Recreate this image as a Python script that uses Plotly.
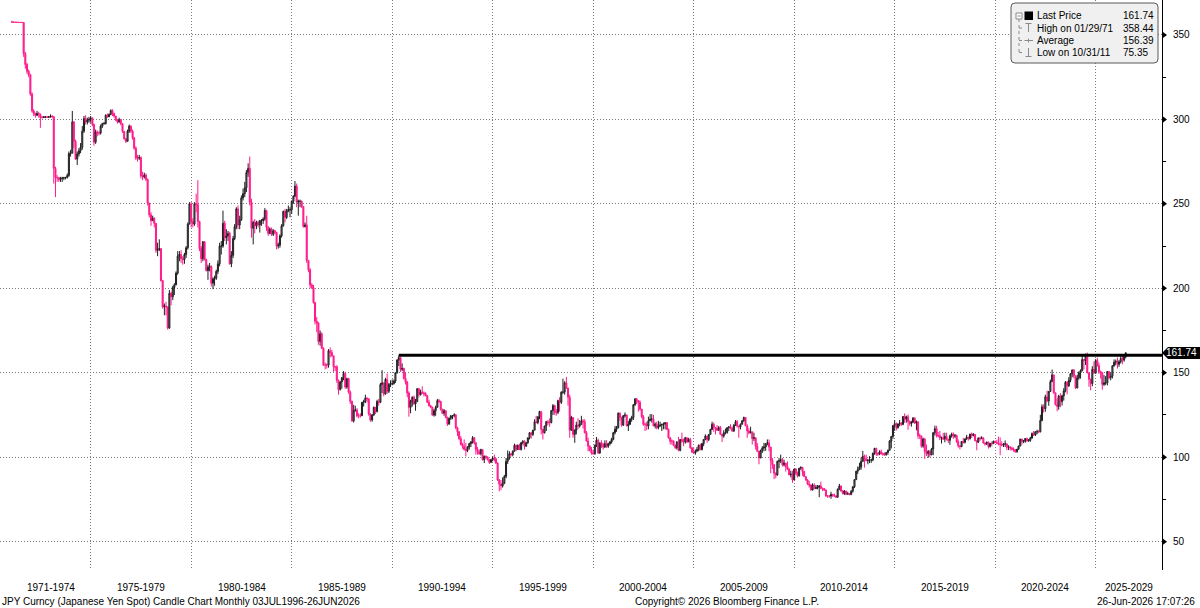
import plotly.graph_objects as go
import pandas as pd

# ---------------- data (USD/JPY monthly) ----------------
FIRST_OPEN = 357.7
CLOSE = [
    # 1971
    357.6, 357.5, 357.5, 357.5, 357.4, 357.4, 357.4, 339.0, 332.5, 328.5, 326.5, 315.0,
    # 1972
    305.0, 303.5, 302.5, 303.5, 303.0, 301.2, 301.2, 301.5, 301.5, 301.3, 301.6, 302.0,
    # 1973
    301.5, 271.0, 265.5, 265.5, 264.5, 265.0, 265.3, 265.5, 265.6, 266.8, 279.8, 280.0,
    # 1974
    298.5, 287.0, 276.5, 279.5, 281.5, 283.5, 293.0, 300.5, 298.5, 299.5, 300.0, 300.9,
    # 1975
    297.0, 286.5, 292.5, 292.0, 292.0, 296.0, 297.5, 297.5, 302.5, 301.5, 303.0, 305.2,
    # 1976
    303.5, 302.0, 299.5, 298.5, 300.0, 297.5, 293.0, 288.5, 287.0, 293.0, 296.0, 293.0,
    # 1977
    289.0, 283.0, 277.0, 277.0, 277.5, 266.5, 266.0, 267.0, 264.5, 250.5, 243.5, 240.0,
    # 1978
    241.5, 238.5, 222.5, 223.0, 223.5, 204.5, 189.0, 189.5, 189.0, 176.5, 197.0, 195.0,
    # 1979
    200.5, 202.0, 209.0, 219.0, 220.0, 217.5, 217.0, 220.0, 224.0, 238.0, 250.0, 239.5,
    # 1980
    238.0, 250.0, 249.5, 239.5, 223.5, 217.5, 227.5, 217.0, 210.5, 212.5, 213.0, 203.0,
    # 1981
    205.5, 206.0, 210.0, 214.5, 225.0, 225.0, 238.5, 230.0, 231.0, 232.5, 214.5, 219.5,
    # 1982
    229.5, 236.5, 247.0, 237.5, 240.5, 253.5, 256.0, 259.5, 268.5, 271.0, 251.0, 235.5,
    # 1983
    239.0, 237.0, 239.0, 237.5, 240.0, 240.0, 241.0, 246.0, 236.0, 232.5, 235.0, 232.0,
    # 1984
    234.0, 233.0, 225.0, 225.5, 231.0, 237.0, 245.5, 242.0, 246.0, 246.5, 246.5, 251.5,
    # 1985
    254.5, 260.5, 251.0, 251.5, 251.5, 248.5, 236.5, 237.5, 216.5, 211.0, 202.0, 200.5,
    # 1986
    191.5, 180.5, 179.5, 168.5, 173.0, 164.5, 154.5, 154.5, 154.5, 163.0, 162.0, 160.0,
    # 1987
    153.5, 153.5, 145.5, 140.0, 144.5, 147.0, 149.5, 141.5, 146.5, 138.5, 133.0, 121.5,
    # 1988
    127.5, 128.0, 124.5, 124.5, 124.5, 132.5, 133.0, 135.0, 134.5, 125.5, 122.0, 125.0,
    # 1989
    129.5, 127.0, 133.0, 132.5, 143.0, 144.0, 137.5, 146.0, 139.0, 143.0, 143.5, 143.5,
    # 1990
    145.0, 150.0, 157.5, 159.0, 152.0, 152.5, 146.5, 144.5, 138.0, 129.5, 133.0, 135.5,
    # 1991
    131.5, 133.0, 140.5, 137.0, 138.5, 138.0, 137.5, 136.5, 132.5, 130.5, 129.5, 125.0,
    # 1992
    127.5, 129.5, 133.5, 133.0, 128.5, 126.0, 127.5, 123.5, 119.5, 123.0, 124.5, 124.5,
    # 1993
    125.0, 117.5, 115.0, 111.0, 107.5, 106.5, 104.5, 104.0, 106.0, 108.0, 109.0, 111.5,
    # 1994
    108.5, 104.5, 103.0, 102.0, 104.5, 98.5, 100.5, 100.0, 98.5, 97.0, 98.5, 99.5,
    # 1995
    99.0, 96.5, 86.5, 84.0, 83.0, 84.5, 88.5, 97.5, 99.5, 102.0, 101.5, 103.5,
    # 1996
    107.0, 104.5, 107.0, 104.5, 108.5, 109.5, 106.5, 108.5, 111.5, 114.5, 113.5, 116.0,
    # 1997
    121.0, 120.5, 124.0, 127.0, 116.5, 114.5, 118.5, 121.0, 120.5, 120.5, 127.5, 130.5,
    # 1998
    126.5, 126.5, 133.5, 132.5, 138.5, 138.5, 144.0, 141.0, 135.5, 116.0, 123.5, 113.5,
    # 1999
    116.0, 119.0, 118.5, 119.5, 121.5, 121.0, 114.5, 109.5, 106.5, 104.0, 102.5, 102.0,
    # 2000
    107.0, 110.0, 102.5, 108.5, 107.5, 106.0, 108.0, 106.5, 108.0, 109.0, 110.5, 114.5,
    # 2001
    116.5, 117.5, 126.0, 123.5, 119.0, 124.5, 125.0, 118.5, 119.5, 122.5, 123.5, 131.0,
    # 2002
    134.5, 133.5, 132.5, 128.5, 124.0, 119.5, 119.5, 118.5, 121.5, 122.5, 122.5, 118.5,
    # 2003
    119.5, 117.5, 118.5, 119.0, 119.5, 119.5, 120.5, 116.5, 111.5, 109.5, 109.5, 107.0,
    # 2004
    105.5, 109.0, 104.0, 110.5, 109.5, 109.0, 111.5, 109.0, 110.5, 105.5, 103.0, 102.5,
    # 2005
    103.5, 104.5, 107.0, 104.5, 108.0, 110.5, 112.5, 110.5, 113.5, 116.5, 119.5, 117.5,
    # 2006
    117.0, 116.0, 117.5, 113.5, 112.5, 114.5, 114.5, 117.5, 118.0, 117.0, 115.5, 119.0,
    # 2007
    121.0, 118.5, 118.0, 119.5, 121.5, 123.5, 118.5, 115.5, 114.5, 115.0, 111.0, 111.5,
    # 2008
    106.5, 103.5, 99.5, 104.0, 105.5, 106.0, 108.0, 108.5, 106.0, 98.0, 95.5, 90.5,
    # 2009
    89.5, 97.5, 98.0, 98.5, 95.5, 96.5, 94.5, 93.0, 89.5, 90.0, 86.5, 93.0,
    # 2010
    90.5, 89.0, 93.5, 94.0, 91.5, 88.5, 86.5, 84.0, 83.5, 80.5, 83.5, 81.5,
    # 2011
    82.0, 82.0, 83.0, 81.5, 81.5, 80.5, 77.0, 77.0, 77.0, 78.0, 77.5, 77.0,
    # 2012
    76.3, 81.0, 83.0, 80.0, 78.5, 80.0, 78.0, 78.4, 77.9, 79.8, 82.5, 86.7,
    # 2013
    91.7, 92.6, 94.2, 97.5, 100.5, 99.1, 97.9, 98.2, 98.3, 98.4, 102.4, 105.3,
    # 2014
    102.0, 101.8, 103.2, 102.2, 101.8, 101.3, 102.8, 104.1, 109.6, 112.3, 118.7, 119.8,
    # 2015
    117.5, 119.6, 120.1, 119.4, 124.1, 122.5, 123.9, 121.2, 119.9, 120.6, 123.1, 120.2,
    # 2016
    121.0, 112.7, 112.6, 106.5, 110.7, 103.3, 102.1, 103.4, 101.4, 104.8, 114.5, 116.9,
    # 2017
    112.8, 112.8, 111.4, 111.5, 110.8, 112.4, 110.3, 110.0, 112.5, 113.7, 112.5, 112.7,
    # 2018
    109.2, 106.7, 106.3, 109.3, 108.8, 110.8, 111.9, 111.0, 113.7, 112.9, 113.5, 109.7,
    # 2019
    108.9, 111.4, 110.9, 111.4, 108.3, 107.9, 108.8, 106.3, 108.1, 108.0, 109.5, 108.6,
    # 2020
    108.4, 107.9, 107.5, 107.2, 107.8, 107.9, 105.8, 105.9, 105.5, 104.7, 104.3, 103.3,
    # 2021
    104.7, 106.6, 110.7, 109.3, 109.6, 111.1, 109.7, 110.0, 111.3, 114.0, 113.2, 115.1,
    # 2022
    115.1, 115.0, 121.7, 129.8, 128.7, 135.7, 133.3, 138.9, 144.7, 148.7, 138.1, 131.1,
    # 2023
    130.1, 136.2, 132.9, 136.3, 139.3, 144.3, 142.3, 145.5, 149.4, 151.7, 148.2, 141.0,
    # 2024
    146.9, 150.0, 151.3, 157.8, 157.3, 160.9, 150.0, 146.2, 143.6, 152.0, 149.8, 157.2,
    # 2025
    154.2, 150.6, 149.9, 143.1, 144.0, 144.0, 150.7, 147.1, 147.9, 154.1, 156.2, 156.7,
    # 2026
    155.0, 156.5, 158.5, 157.5, 159.5, 161.74,
]
HIGH = [
    358.4, 357.8, 357.7, 357.7, 357.6, 357.6, 357.6, 357.5, 340.0, 333.5, 329.5, 327.0,
    316.0, 306.0, 304.0, 305.0, 304.5, 303.5, 302.0, 302.0, 302.0, 302.0, 302.0, 303.0,
    302.5, 302.0, 272.0, 267.0, 266.0, 266.0, 266.0, 266.0, 266.0, 268.0, 281.0, 282.0,
    305.0, 299.0, 288.0, 281.0, 283.0, 286.0, 296.0, 302.0, 302.5, 301.0, 301.5, 302.0,
    301.0, 297.5, 294.0, 293.5, 293.0, 297.0, 298.0, 298.5, 303.0, 303.5, 303.5, 306.0,
    306.0, 304.0, 302.0, 300.0, 301.0, 300.0, 297.5, 293.0, 289.0, 294.0, 297.0, 296.5,
    294.0, 289.5, 284.0, 279.0, 279.0, 278.0, 269.0, 268.5, 268.0, 265.0, 250.0, 245.0,
    243.0, 242.0, 238.0, 227.0, 229.0, 223.0, 205.0, 191.0, 192.0, 189.0, 199.0, 198.0,
    201.5, 203.0, 210.0, 222.0, 222.0, 222.5, 219.0, 221.0, 225.0, 239.0, 251.0, 251.0,
    241.5, 251.0, 256.0, 264.0, 240.0, 225.0, 228.0, 228.0, 217.5, 214.0, 215.0, 213.5,
    206.5, 207.5, 211.0, 216.5, 227.0, 228.0, 246.0, 240.0, 235.0, 234.0, 233.5, 222.0,
    231.0, 238.0, 248.0, 249.0, 243.0, 255.0, 259.0, 263.0, 270.0, 274.0, 278.0, 253.0,
    240.0, 241.0, 240.0, 240.0, 240.5, 241.0, 242.0, 247.5, 246.5, 237.0, 236.0, 236.0,
    235.0, 234.5, 233.5, 227.0, 232.0, 238.0, 246.0, 247.0, 247.0, 249.0, 248.0, 252.0,
    255.0, 263.5, 262.0, 252.5, 252.5, 252.0, 248.5, 239.0, 243.0, 216.5, 212.0, 203.0,
    202.0, 192.0, 183.0, 180.0, 175.0, 174.0, 165.0, 156.0, 155.5, 164.0, 165.0, 163.5,
    160.0, 154.0, 154.5, 146.0, 145.0, 147.5, 151.0, 150.5, 147.0, 147.0, 139.5, 133.5,
    131.0, 130.5, 129.0, 126.0, 126.0, 132.5, 134.0, 137.0, 135.5, 135.0, 126.0, 125.5,
    130.0, 129.5, 134.0, 134.5, 144.0, 151.5, 144.0, 147.0, 149.5, 144.0, 145.5, 146.0,
    146.0, 150.0, 158.0, 160.3, 159.0, 155.5, 153.0, 150.0, 145.0, 139.0, 134.0, 136.0,
    136.5, 134.5, 141.0, 141.0, 140.0, 142.0, 139.0, 138.5, 136.5, 134.0, 131.0, 130.0,
    128.5, 130.5, 134.5, 134.5, 133.5, 128.5, 128.5, 127.5, 124.0, 123.5, 125.0, 125.0,
    126.0, 125.5, 118.0, 115.5, 112.5, 108.5, 110.5, 108.5, 106.5, 108.5, 109.5, 112.5,
    112.0, 109.0, 106.0, 104.5, 105.0, 104.5, 101.0, 101.0, 100.5, 99.0, 99.0, 100.5,
    101.5, 99.5, 97.0, 87.0, 86.5, 88.0, 89.5, 99.5, 104.0, 103.5, 102.5, 104.0,
    108.0, 107.5, 107.5, 108.0, 109.0, 110.0, 110.0, 109.0, 111.5, 114.5, 114.5, 116.0,
    122.5, 124.5, 124.0, 127.5, 127.0, 116.5, 118.5, 121.5, 122.0, 123.0, 128.0, 131.5,
    131.0, 128.5, 134.0, 135.5, 139.0, 146.5, 145.0, 147.5, 137.0, 137.0, 124.5, 123.5,
    116.5, 121.0, 123.0, 122.0, 124.5, 122.5, 122.5, 115.5, 111.5, 107.0, 106.0, 104.5,
    107.5, 112.0, 111.0, 108.5, 110.0, 108.5, 110.0, 110.0, 108.5, 109.5, 111.5, 115.0,
    118.5, 118.5, 126.5, 126.5, 124.0, 125.0, 126.5, 124.0, 121.5, 123.0, 124.5, 131.5,
    135.0, 135.0, 133.5, 133.5, 128.5, 125.0, 120.5, 121.0, 124.0, 125.5, 125.5, 125.0,
    120.5, 121.0, 121.5, 121.0, 119.5, 120.5, 120.5, 120.5, 117.0, 112.0, 110.5, 110.0,
    107.5, 109.5, 112.0, 110.5, 114.5, 111.0, 112.0, 111.5, 111.5, 111.5, 106.0, 105.5,
    104.5, 106.0, 107.5, 108.0, 108.5, 110.5, 113.5, 112.5, 113.5, 116.5, 121.0, 120.5,
    117.5, 119.0, 118.5, 118.5, 113.5, 116.0, 117.0, 117.5, 118.0, 119.5, 118.0, 119.5,
    122.0, 122.0, 118.5, 120.0, 122.0, 124.0, 123.5, 119.5, 117.0, 118.0, 115.0, 114.5,
    110.5, 108.5, 103.5, 104.5, 106.5, 108.5, 108.0, 110.5, 110.5, 106.0, 99.5, 96.0,
    91.0, 98.0, 99.5, 101.5, 99.5, 98.5, 96.5, 97.5, 93.5, 92.0, 92.0, 93.0,
    93.5, 91.5, 93.5, 94.5, 94.0, 92.0, 88.5, 87.0, 86.0, 84.0, 84.5, 84.5,
    83.5, 83.5, 83.5, 85.5, 82.0, 81.5, 81.0, 77.5, 77.5, 79.5, 78.0, 78.5,
    77.5, 81.5, 84.2, 83.0, 80.5, 80.5, 79.8, 79.5, 78.5, 80.5, 82.8, 86.7,
    91.8, 94.5, 96.7, 99.9, 103.7, 101.5, 101.5, 99.0, 100.6, 99.0, 102.6, 105.4,
    105.4, 102.8, 104.1, 104.5, 102.8, 102.8, 103.1, 104.5, 110.1, 112.5, 118.9, 121.9,
    120.6, 120.0, 122.0, 120.8, 124.4, 125.9, 124.6, 125.3, 121.7, 121.5, 123.8, 123.6,
    121.7, 121.0, 114.0, 112.0, 111.5, 111.4, 107.5, 104.3, 104.1, 105.5, 114.8, 118.7,
    118.6, 114.9, 115.5, 112.2, 114.4, 114.5, 114.5, 111.0, 113.3, 114.5, 114.7, 113.8,
    113.4, 110.5, 107.0, 109.5, 111.4, 111.0, 113.2, 111.8, 113.8, 114.6, 114.2, 113.7,
    110.0, 111.5, 112.1, 112.4, 111.7, 108.8, 109.3, 109.3, 108.5, 109.3, 109.7, 109.7,
    110.3, 112.2, 111.7, 109.4, 108.1, 109.9, 107.6, 107.1, 106.6, 106.1, 105.7, 104.8,
    104.9, 106.7, 110.9, 110.9, 110.2, 111.1, 111.6, 110.8, 112.1, 114.7, 115.5, 115.2,
    116.3, 116.0, 125.1, 131.3, 131.3, 137.0, 139.4, 139.1, 145.9, 151.9, 148.8, 138.2,
    134.8, 136.9, 137.9, 137.0, 140.9, 145.1, 145.1, 147.4, 149.7, 151.7, 151.9, 148.0,
    148.8, 150.9, 152.0, 160.2, 157.7, 161.3, 161.9, 149.4, 146.5, 153.9, 156.7, 158.1,
    158.9, 155.9, 151.3, 150.5, 148.6, 148.0, 151.0, 150.9, 150.1, 154.4, 157.9, 157.8,
    159.0, 157.5, 160.0, 160.5, 160.5, 162.2,
]
LOW = [
    357.3, 357.3, 357.3, 357.3, 357.2, 357.2, 357.2, 337.0, 330.0, 327.0, 325.0, 314.0,
    304.0, 302.0, 301.0, 302.0, 301.0, 295.0, 300.5, 300.8, 300.8, 300.8, 300.8, 301.0,
    301.0, 262.0, 254.0, 263.0, 263.0, 263.0, 263.0, 264.0, 264.5, 265.0, 266.0, 278.0,
    280.0, 283.0, 276.0, 273.0, 278.0, 280.0, 282.0, 292.0, 297.0, 297.0, 298.0, 298.0,
    296.0, 284.5, 285.5, 290.0, 290.5, 291.0, 295.0, 297.0, 297.0, 301.0, 301.5, 302.5,
    302.0, 301.0, 299.0, 297.5, 298.0, 296.5, 292.0, 288.0, 286.0, 287.0, 292.0, 292.0,
    288.0, 282.0, 276.0, 275.0, 276.0, 265.0, 264.0, 265.0, 263.5, 249.0, 242.0, 237.0,
    240.0, 236.0, 221.0, 219.0, 222.0, 204.0, 188.0, 184.0, 184.0, 175.5, 176.0, 190.0,
    193.0, 196.0, 202.0, 208.0, 216.0, 215.0, 214.0, 214.5, 218.0, 223.0, 238.0, 236.0,
    236.0, 237.0, 245.0, 236.0, 222.0, 215.0, 216.0, 216.5, 210.0, 205.0, 210.0, 201.0,
    199.5, 201.5, 205.0, 208.5, 213.0, 220.0, 224.0, 228.0, 226.0, 228.0, 214.0, 212.5,
    218.0, 228.5, 235.0, 235.0, 235.0, 240.0, 252.0, 254.0, 257.0, 266.0, 249.0, 230.0,
    226.0, 232.5, 235.0, 236.0, 233.0, 237.0, 238.0, 240.0, 234.0, 231.0, 232.0, 231.0,
    231.0, 232.0, 223.0, 223.5, 224.0, 230.0, 236.5, 239.0, 241.0, 245.0, 242.0, 244.0,
    250.0, 254.0, 248.0, 243.0, 248.0, 247.5, 236.0, 236.0, 215.0, 209.5, 200.0, 199.5,
    191.0, 178.5, 174.0, 166.5, 166.0, 164.0, 154.0, 152.0, 152.5, 153.0, 159.0, 159.5,
    150.5, 151.0, 144.0, 137.0, 139.5, 140.5, 145.5, 140.5, 140.5, 137.5, 131.5, 121.0,
    120.5, 127.0, 123.5, 123.0, 123.5, 124.5, 130.0, 132.0, 132.5, 124.5, 121.0, 121.0,
    124.5, 125.5, 126.5, 130.5, 132.0, 138.0, 136.0, 137.0, 137.5, 138.0, 141.5, 142.5,
    143.0, 144.0, 149.5, 154.0, 150.5, 151.0, 146.0, 143.0, 135.5, 124.0, 126.0, 130.0,
    131.0, 127.5, 132.5, 135.5, 136.5, 137.5, 136.0, 136.0, 132.0, 130.0, 129.0, 124.5,
    124.0, 124.5, 129.5, 132.0, 127.5, 125.5, 124.5, 123.0, 118.5, 119.5, 122.0, 122.5,
    123.5, 116.5, 112.5, 110.0, 107.0, 105.0, 104.0, 100.5, 103.0, 104.5, 106.0, 108.0,
    107.5, 101.5, 101.5, 101.5, 101.0, 98.0, 96.5, 99.0, 98.0, 96.0, 96.5, 97.5,
    97.5, 96.0, 86.0, 79.8, 80.5, 82.0, 84.0, 87.5, 96.0, 98.5, 100.5, 100.5,
    103.5, 103.5, 104.5, 104.5, 104.0, 107.5, 104.5, 106.0, 108.0, 110.5, 111.0, 112.5,
    116.0, 120.0, 119.5, 122.5, 113.5, 110.5, 114.0, 115.5, 119.0, 118.0, 120.0, 125.0,
    125.0, 124.5, 125.5, 127.0, 131.5, 137.5, 137.0, 140.5, 130.5, 111.5, 115.5, 111.5,
    108.5, 113.5, 116.5, 117.5, 119.0, 117.0, 114.0, 109.5, 103.5, 103.5, 101.5, 101.5,
    101.5, 106.0, 102.0, 102.0, 105.5, 104.5, 105.5, 105.5, 105.5, 107.0, 108.0, 110.0,
    113.5, 115.0, 117.0, 121.5, 118.0, 118.5, 123.5, 118.5, 115.5, 119.0, 121.0, 122.0,
    130.5, 131.5, 127.0, 127.5, 123.0, 118.5, 115.5, 116.0, 116.5, 121.5, 120.5, 118.5,
    117.0, 116.5, 116.5, 118.0, 115.5, 116.5, 116.5, 116.0, 111.0, 107.5, 107.5, 106.5,
    105.0, 104.5, 103.5, 103.5, 108.5, 106.5, 108.0, 108.5, 109.0, 105.0, 102.5, 102.0,
    101.5, 103.5, 103.5, 104.0, 104.0, 106.5, 110.0, 108.5, 109.5, 113.5, 116.0, 115.0,
    113.5, 115.5, 115.5, 113.5, 109.0, 111.5, 113.5, 114.0, 115.5, 116.5, 115.0, 115.0,
    118.5, 117.5, 111.5, 116.5, 119.5, 121.0, 118.5, 111.5, 113.5, 114.0, 107.5, 109.5,
    104.5, 103.0, 95.8, 99.5, 102.5, 103.5, 103.8, 107.0, 103.5, 90.5, 93.0, 87.0,
    87.5, 89.0, 93.5, 96.5, 94.5, 94.5, 91.5, 92.5, 89.5, 88.0, 84.8, 86.5,
    89.5, 88.0, 88.5, 92.5, 89.0, 88.5, 86.0, 83.5, 82.0, 80.5, 80.5, 81.0,
    81.0, 81.0, 76.3, 81.0, 80.0, 80.0, 76.5, 75.9, 76.0, 75.35, 76.5, 76.5,
    76.0, 76.1, 80.5, 79.5, 78.0, 77.6, 77.5, 78.0, 77.4, 77.5, 79.0, 81.7,
    86.7, 90.0, 92.5, 92.6, 97.5, 93.8, 97.6, 95.8, 96.5, 96.6, 97.6, 101.4,
    100.8, 100.8, 101.2, 101.4, 100.8, 101.1, 101.1, 101.5, 104.0, 105.2, 111.0, 115.6,
    115.9, 116.9, 118.3, 118.5, 118.9, 120.4, 120.4, 116.2, 118.6, 118.1, 120.4, 119.6,
    115.9, 110.9, 110.7, 105.6, 105.6, 99.0, 100.7, 99.6, 100.1, 101.2, 101.2, 112.9,
    111.7, 111.7, 110.1, 108.1, 110.2, 108.8, 110.0, 108.3, 107.3, 111.6, 110.8, 111.4,
    108.3, 105.6, 104.6, 105.9, 108.1, 108.1, 110.3, 109.8, 110.4, 111.4, 112.3, 109.5,
    104.1, 108.5, 109.7, 110.8, 108.3, 106.8, 107.2, 105.1, 105.7, 106.5, 108.2, 108.4,
    107.6, 107.0, 101.2, 106.4, 106.0, 106.1, 104.2, 104.2, 104.0, 104.0, 103.2, 102.6,
    102.6, 104.4, 106.4, 107.5, 108.3, 108.6, 109.1, 109.1, 109.1, 111.0, 112.5, 112.5,
    113.5, 114.2, 114.7, 121.3, 126.4, 126.9, 132.5, 130.4, 138.8, 144.6, 137.5, 130.6,
    127.2, 128.1, 129.6, 130.6, 133.5, 138.4, 137.2, 141.5, 144.4, 147.3, 146.7, 140.3,
    140.8, 145.9, 146.5, 150.8, 151.9, 154.6, 149.6, 141.7, 139.6, 142.0, 149.5, 149.4,
    153.7, 149.4, 146.5, 139.9, 142.1, 142.8, 142.5, 146.2, 145.5, 146.6, 153.6, 154.4,
    152.5, 153.5, 155.5, 155.0, 156.5, 158.5,
]
FIRST_MONTH_END = "1971-01-31"

Y_TICKS = [50, 100, 150, 200, 250, 300, 350]
Y_MINOR_TICKS = [75, 125, 175, 225, 275, 325]
X_LABELS = ["1971-1974", "1975-1979", "1980-1984", "1985-1989", "1990-1994", "1995-1999",
            "2000-2004", "2005-2009", "2010-2014", "2015-2019", "2020-2024", "2025-2029"]
X_LABEL_STARTS = ["1971-01-01", "1975-01-01", "1980-01-01", "1985-01-01", "1990-01-01", "1995-01-01",
                  "2000-01-01", "2005-01-01", "2010-01-01", "2015-01-01", "2020-01-01", "2025-01-01"]

RESIST_LEVEL = 160.35
RESIST_START = "1990-04-30"

LEGEND_LABELS = ["Last Price", "High on 01/29/71", "Average", "Low on 10/31/11"]
LEGEND_VALUES = ["161.74", "358.44", "156.39", "75.35"]
LAST_PRICE = 161.74

TITLE_TEXT = "JPY Curncy (Japanese Yen Spot) Candle Chart Monthly 03JUL1996-26JUN2026"
COPYRIGHT_TEXT = "Copyright\u00a9 2026 Bloomberg Finance L.P."
STAMP_TEXT = "26-Jun-2026 17:07:26"

# ---------------- layout constants ----------------
W, H = 1200, 608
PLOT_W, PLOT_H = 1162, 570
X_START, X_END = "1970-06-27", "2028-04-19"
Y_MIN, Y_MAX = 33.2, 370.7
FONT = "Liberation Sans"
GRID = "#7a7a7a"


def px(x):
    return x / PLOT_W


def py(y):
    return 1 - y / PLOT_H


dates = pd.date_range(FIRST_MONTH_END, periods=len(CLOSE), freq="ME")
opens = [FIRST_OPEN] + CLOSE[:-1]
highs = [max(h, o, c) for h, o, c in zip(HIGH, opens, CLOSE)]
lows = [min(l, o, c) for l, o, c in zip(LOW, opens, CLOSE)]

fig = go.Figure()
fig.add_trace(go.Candlestick(
    x=dates, open=opens, high=highs, low=lows, close=CLOSE,
    increasing=dict(line=dict(color="#1e1e1e", width=1), fillcolor="#8a8a8a"),
    decreasing=dict(line=dict(color="#ff1a8c", width=1), fillcolor="#ff1a8c"),
    whiskerwidth=0, showlegend=False, hoverinfo="skip",
))

shapes = []
# resistance line
shapes.append(dict(type="line", xref="x", yref="y", x0=RESIST_START, x1=X_END,
                   y0=RESIST_LEVEL, y1=RESIST_LEVEL, line=dict(color="black", width=3)))
# axis tick triangles
for v in Y_TICKS:
    shapes.append(dict(type="path", xref="paper", yref="y", xsizemode="pixel", ysizemode="pixel",
                       xanchor=1, yanchor=v, path="M1,-3 L5,0 L1,3 Z",
                       fillcolor="black", line=dict(width=0)))
# last price tag
shapes.append(dict(type="path", xref="paper", yref="y", xsizemode="pixel", ysizemode="pixel",
                   xanchor=1, yanchor=LAST_PRICE, path="M0,0 L6,-6 L38,-6 L38,6 L6,6 Z",
                   fillcolor="black", line=dict(width=0)))


# legend box (rounded)
def rounded(x0, y0, x1, y1, r):
    return (f"M{px(x0 + r)},{py(y0)} L{px(x1 - r)},{py(y0)} Q{px(x1)},{py(y0)} {px(x1)},{py(y0 + r)} "
            f"L{px(x1)},{py(y1 - r)} Q{px(x1)},{py(y1)} {px(x1 - r)},{py(y1)} "
            f"L{px(x0 + r)},{py(y1)} Q{px(x0)},{py(y1)} {px(x0)},{py(y1 - r)} "
            f"L{px(x0)},{py(y0 + r)} Q{px(x0)},{py(y0)} {px(x0 + r)},{py(y0)} Z")


shapes.append(dict(type="path", xref="paper", yref="paper", path=rounded(1011, 3, 1158, 63, 4),
                   fillcolor="#f0f0f0", line=dict(color="#5a5a5a", width=1)))

rows = [16, 28, 40.5, 52.5]
icon_col = "#8a8a8a"


def seg(x0, y0, x1, y1, color=icon_col, width=1, dash=None):
    d = dict(type="line", xref="paper", yref="paper", x0=px(x0), y0=py(y0), x1=px(x1), y1=py(y1),
             line=dict(color=color, width=width))
    if dash:
        d["line"]["dash"] = dash
    return d


# tree structure
shapes.append(seg(1019, 19, 1019, rows[3], dash="dot"))
for r in rows[1:]:
    shapes.append(seg(1019, r, 1024, r, dash="dot"))
# collapse box
shapes.append(dict(type="rect", xref="paper", yref="paper", x0=px(1016), x1=px(1022), y0=py(13), y1=py(19),
                   fillcolor="white", line=dict(color=icon_col, width=1)))
shapes.append(seg(1017.5, 16, 1020.5, 16))
# last price black square
shapes.append(dict(type="rect", xref="paper", yref="paper", x0=px(1024.5), x1=px(1033), y0=py(11.5), y1=py(20),
                   fillcolor="black", line=dict(width=0)))
# high icon (T)
shapes.append(seg(1025.5, 23.5, 1031.5, 23.5))
shapes.append(seg(1028.5, 23.5, 1028.5, 32))
# average icon
shapes.append(seg(1024.5, rows[2], 1033, rows[2]))
shapes.append(seg(1028.5, rows[2] - 2, 1028.5, rows[2] + 2))
# low icon
shapes.append(seg(1028.5, 48, 1028.5, 56.5))
shapes.append(seg(1025.5, 56.5, 1031.5, 56.5))

annotations = []
for r, lab, val in zip(rows, LEGEND_LABELS, LEGEND_VALUES):
    annotations.append(dict(xref="paper", yref="paper", x=px(1035), y=py(r), text=lab, showarrow=False,
                            xanchor="left", yanchor="middle", font=dict(family=FONT, size=10, color="black")))
    annotations.append(dict(xref="paper", yref="paper", x=px(1121), y=py(r), text=val, showarrow=False,
                            xanchor="left", yanchor="middle", font=dict(family=FONT, size=10, color="black")))

# last price label text
annotations.append(dict(xref="paper", yref="paper", x=px(1199), y=py(0) , text="", showarrow=False))
annotations.append(dict(xref="paper", yref="y", x=px(1198), y=LAST_PRICE, text=f"{LAST_PRICE:.2f}",
                        showarrow=False, xanchor="right", yanchor="middle", borderpad=0,
                        font=dict(family=FONT, size=10, color="white")))

# x period labels centred on the visible part of each period
end_ts = pd.Timestamp(X_END)
for i, (lab, st) in enumerate(zip(X_LABELS, X_LABEL_STARTS)):
    s = pd.Timestamp(st)
    e = pd.Timestamp(X_LABEL_STARTS[i + 1]) if i + 1 < len(X_LABEL_STARTS) else end_ts
    e = min(e, end_ts)
    mid = s + (e - s) / 2
    annotations.append(dict(xref="x", yref="paper", x=mid, y=py(587), text=lab, showarrow=False,
                            xanchor="center", yanchor="middle", font=dict(family=FONT, size=10, color="black")))

# footer
annotations.append(dict(xref="paper", yref="paper", x=px(0), y=py(601), text=TITLE_TEXT, showarrow=False,
                        xanchor="left", yanchor="middle", font=dict(family=FONT, size=10, color="black")))
annotations.append(dict(xref="paper", yref="paper", x=px(727), y=py(601), text=COPYRIGHT_TEXT, showarrow=False,
                        xanchor="center", yanchor="middle", font=dict(family=FONT, size=10, color="black")))
annotations.append(dict(xref="paper", yref="paper", x=px(1197), y=py(601), text=STAMP_TEXT, showarrow=False,
                        xanchor="right", yanchor="middle", font=dict(family=FONT, size=10, color="black")))

fig.update_layout(
    width=W, height=H, autosize=False,
    margin=dict(l=0, r=W - PLOT_W, t=0, b=H - PLOT_H, pad=0),
    paper_bgcolor="white", plot_bgcolor="white",
    font=dict(family=FONT, size=10, color="black"),
    showlegend=False,
    boxgap=0.05,
    xaxis=dict(type="date", range=[X_START, X_END], rangeslider=dict(visible=False),
               showticklabels=False, ticks="", tick0="1975-01-01", dtick="M60",
               showgrid=True, gridcolor=GRID, gridwidth=1, griddash="1px,2px",
               zeroline=False, showline=False, fixedrange=True),
    yaxis=dict(side="right", range=[Y_MIN, Y_MAX], tickmode="array", tickvals=Y_TICKS,
               ticktext=[str(v) for v in Y_TICKS], ticks="", ticklabelstandoff=8,
               tickfont=dict(family=FONT, size=10, color="black"),
               showgrid=True, gridcolor=GRID, gridwidth=1, griddash="1px,2px",
               showline=True, linecolor="black", linewidth=1, zeroline=False,
               minor=dict(tickmode="array", tickvals=Y_MINOR_TICKS,
                          ticks="outside", ticklen=3, tickcolor="black", tickwidth=1, showgrid=False),
               fixedrange=True),
    shapes=shapes,
    annotations=annotations,
)

fig.write_html("out.html")
